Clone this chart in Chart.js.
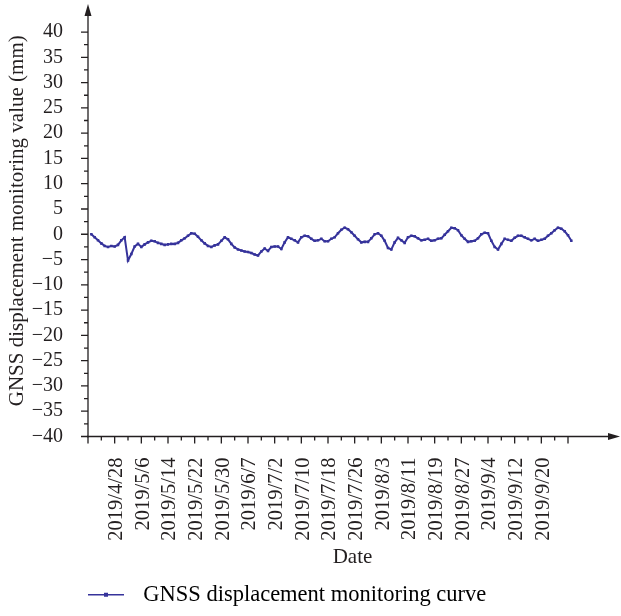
<!DOCTYPE html>
<html>
<head>
<meta charset="utf-8">
<script src="https://cdn.jsdelivr.net/npm/chart.js@4.4.1/dist/chart.umd.min.js"></script>
<style>
  html, body { margin: 0; padding: 0; background: #fff; }
  #wrap { width: 621px; height: 616px; }
</style>
</head>
<body>
<div id="wrap"><canvas id="grafico"></canvas></div>
<script>
// dias monitorados: [mes, primeiro dia, ultimo dia] (falta de 6/15 a 7/1)
const dateRuns = [[4, 21, 30], [5, 1, 31], [6, 1, 14], [7, 2, 31], [8, 1, 31], [9, 1, 29]];

const tickLabels = ['2019/4/28', '2019/5/6', '2019/5/14', '2019/5/22', '2019/5/30', '2019/6/7',
  '2019/7/2', '2019/7/10', '2019/7/18', '2019/7/26', '2019/8/3', '2019/8/11', '2019/8/19',
  '2019/8/27', '2019/9/4', '2019/9/12', '2019/9/20'];

const yTicks = [-40, -35, -30, -25, -20, -15, -10, -5, 0, 5, 10, 15, 20, 25, 30, 35, 40];

// deslocamento GNSS (mm), um valor por dia
const displacement = [
  0.0, -0.6, -1.2, -1.8, -2.3, -2.5, -2.3, -2.4, -2.1, -1.2,
  -0.6, -5.2, -3.9, -2.4, -1.9, -2.5, -2.0, -1.6, -1.3, -1.4,
  -1.7, -1.9, -2.1, -2.0, -1.9, -1.9, -1.7, -1.2, -0.8, -0.3,
  0.2, 0.1, -0.5, -1.2, -1.8, -2.3, -2.5, -2.2, -2.0, -1.3,
  -0.6, -1.0, -1.9, -2.6, -3.0, -3.2, -3.4, -3.5, -3.7, -4.0,
  -4.2, -3.4, -2.8, -3.3, -2.5, -2.4, -2.4, -2.9, -1.6, -0.6,
  -0.9, -1.2, -1.6, -0.6, -0.3, -0.4, -0.9, -1.3, -1.2, -0.9,
  -1.4, -1.4, -0.9, -0.6, 0.2, 0.9, 1.3, 1.0, 0.4, -0.3,
  -1.0, -1.6, -1.5, -1.5, -0.8, 0.0, 0.2, -0.3, -1.3, -2.7,
  -3.0, -1.6, -0.7, -1.2, -1.7, -0.6, -0.3, -0.4, -0.8, -1.2,
  -1.1, -0.9, -1.3, -1.2, -0.9, -0.8, -0.1, 0.6, 1.3, 1.2,
  0.8, -0.2, -0.9, -1.5, -1.4, -1.3, -0.8, 0.0, 0.3, 0.2,
  -1.3, -2.5, -3.0, -1.9, -0.9, -1.1, -1.3, -0.7, -0.3, -0.3,
  -0.6, -0.9, -1.2, -0.9, -1.3, -1.1, -0.9, -0.3, 0.2, 0.8,
  1.3, 1.1, 0.6, -0.2, -1.3
];

const dates = [];
dateRuns.forEach(([m, d0, d1]) => {
  for (let d = d0; d <= d1; d++) dates.push(`2019/${m}/${d}`);
});
const labelIdx = tickLabels.map(t => dates.indexOf(t));

const corLinha = '#36339b';
const corTexto = '#231f20';
const fonte = '"Liberation Serif", "DejaVu Serif", serif';

// eixos com setas e marcas maiores/menores
const eixos = {
  id: 'eixos',
  afterDraw(chart) {
    const { ctx, chartArea, scales: { x, y } } = chart;
    const left = chartArea.left, bottom = chartArea.bottom;
    ctx.save();
    ctx.strokeStyle = corTexto;
    ctx.fillStyle = corTexto;
    ctx.lineWidth = 1.3;

    ctx.beginPath();
    ctx.moveTo(left, bottom + 1);
    ctx.lineTo(left, chartArea.top + 6);
    ctx.moveTo(left - 1, bottom);
    ctx.lineTo(chartArea.right - 6, bottom);
    ctx.stroke();

    ctx.beginPath();
    ctx.moveTo(left, chartArea.top - 1);
    ctx.lineTo(left - 3.5, chartArea.top + 11);
    ctx.lineTo(left + 3.5, chartArea.top + 11);
    ctx.closePath();
    ctx.fill();
    ctx.beginPath();
    ctx.moveTo(chartArea.right + 3, bottom);
    ctx.lineTo(chartArea.right - 9, bottom - 3.5);
    ctx.lineTo(chartArea.right - 9, bottom + 3.5);
    ctx.closePath();
    ctx.fill();

    ctx.beginPath();
    yTicks.forEach((v, i) => {
      const py = y.getPixelForValue(v);
      ctx.moveTo(left, py);
      ctx.lineTo(left - 7, py);
      if (i < yTicks.length - 1) {
        const pm = y.getPixelForValue(v + 2.5);
        ctx.moveTo(left, pm);
        ctx.lineTo(left - 4, pm);
      }
    });
    const majors = [labelIdx[0] - 8, ...labelIdx, labelIdx[labelIdx.length - 1] + 8];
    majors.forEach((v, i) => {
      const px = x.getPixelForValue(v);
      ctx.moveTo(px, bottom);
      ctx.lineTo(px, bottom + 7);
      if (i < majors.length - 1) {
        const pm = x.getPixelForValue(v + 4);
        ctx.moveTo(pm, bottom);
        ctx.lineTo(pm, bottom + 4);
      }
    });
    ctx.stroke();

    // amostra da legenda: linha com marcador quadrado
    const hb = chart.legend.legendHitBoxes[0];
    if (hb) {
      const ly = hb.top + hb.height / 2;
      ctx.strokeStyle = corLinha;
      ctx.fillStyle = corLinha;
      ctx.lineWidth = 1.6;
      ctx.beginPath();
      ctx.moveTo(hb.left, ly);
      ctx.lineTo(hb.left + 36, ly);
      ctx.stroke();
      ctx.fillRect(hb.left + 16, ly - 2, 4, 4);
    }
    ctx.restore();
  }
};

new Chart(document.getElementById('grafico'), {
  type: 'line',
  data: {
    datasets: [{
      label: 'GNSS displacement monitoring curve',
      data: displacement.map((v, i) => ({ x: i, y: v })),
      borderColor: corLinha,
      backgroundColor: corLinha,
      borderWidth: 2,
      pointStyle: 'rect',
      pointRadius: 1.8,
      pointBorderWidth: 0,
      pointBackgroundColor: corLinha,
      tension: 0
    }]
  },
  options: {
    responsive: true,
    maintainAspectRatio: false,
    animation: false,
    layout: { padding: { top: 5, right: 3, left: 0, bottom: 0 } },
    plugins: {
      tooltip: { enabled: false },
      legend: {
        position: 'bottom',
        align: 'start',
        fullSize: false,
        labels: {
          padding: 0,
          boxWidth: 44,
          boxHeight: 2,
          color: corTexto,
          font: { family: fonte, size: 22.5 },
          generateLabels: chart => [{
            text: chart.data.datasets[0].label,
            fillStyle: 'rgba(0,0,0,0)',
            strokeStyle: 'rgba(0,0,0,0)',
            lineWidth: 0,
            datasetIndex: 0,
            hidden: false
          }]
        }
      }
    },
    scales: {
      x: {
        type: 'linear',
        min: -1,
        max: 157.7,
        grid: { display: false },
        border: { display: false },
        afterBuildTicks: s => { s.ticks = labelIdx.map(v => ({ value: v })); },
        afterFit: s => { s.height = 147; s.paddingLeft = 0; s.paddingRight = 0; },
        ticks: {
          autoSkip: false,
          minRotation: 90,
          maxRotation: 90,
          padding: 13,
          labelOffset: 2,
          color: corTexto,
          font: { family: fonte, size: 20.5 },
          callback: v => dates[v]
        },
        title: {
          display: true,
          text: 'Date',
          color: corTexto,
          font: { family: fonte, size: 21 },
          padding: { top: 0, bottom: 13 }
        }
      },
      y: {
        min: -40,
        max: 45.35,
        grid: { display: false },
        border: { display: false },
        afterBuildTicks: s => { s.ticks = yTicks.map(v => ({ value: v })); },
        afterFit: s => { s.width = 88; s.paddingTop = 0; s.paddingBottom = 0; },
        ticks: {
          autoSkip: false,
          padding: 17,
          color: corTexto,
          font: { family: fonte, size: 20 },
          callback: v => v < 0 ? '\u2212' + Math.abs(v) : String(v)
        },
        title: {
          display: true,
          text: 'GNSS displacement monitoring value (mm)',
          color: corTexto,
          font: { family: fonte, size: 21 },
          padding: { top: 5, bottom: 0 }
        }
      }
    }
  },
  plugins: [eixos]
});
</script>
</body>
</html>
